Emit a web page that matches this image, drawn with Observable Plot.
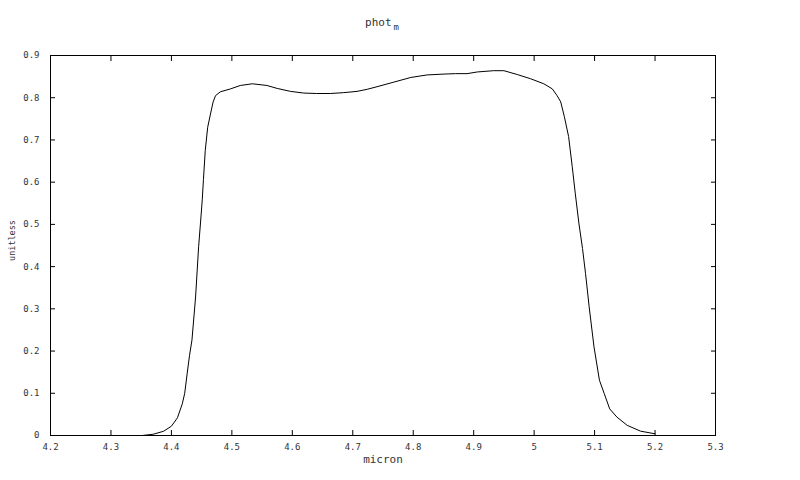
<!DOCTYPE html>
<html>
<head>
<meta charset="utf-8">
<script src="https://cdn.jsdelivr.net/npm/d3@7"></script>
<script src="https://cdn.jsdelivr.net/npm/@observablehq/plot@0.6"></script>
<style>
  html, body { margin: 0; padding: 0; background: #fff; }
  #wrap { position: relative; width: 800px; height: 480px; }
  #title { position: absolute; left: 0; top: 17px; width: 764px; text-align: center;
           font-family: "DejaVu Sans Mono", monospace; font-size: 11px; color: #333; line-height: 12px; }
  #title sub { font-size: 9px; vertical-align: -4px; line-height: 0; color: #333; margin-left: 2px; }
</style>
</head>
<body>
<div id="wrap"><div id="title">phot<sub>m</sub></div></div>
<script>
const wavelength = [4.352, 4.37, 4.387, 4.4, 4.41, 4.418, 4.422, 4.426, 4.43, 4.434, 4.44, 4.445, 4.449, 4.451, 4.453, 4.456, 4.46, 4.465, 4.469, 4.473, 4.481, 4.498, 4.514, 4.534, 4.558, 4.575, 4.597, 4.619, 4.64, 4.663, 4.685, 4.707, 4.724, 4.74, 4.768, 4.796, 4.823, 4.851, 4.87, 4.889, 4.906, 4.933, 4.95, 4.972, 4.994, 5.016, 5.03, 5.038, 5.044, 5.05, 5.057, 5.063, 5.068, 5.074, 5.08, 5.085, 5.091, 5.099, 5.108, 5.116, 5.125, 5.137, 5.154, 5.176, 5.2];
const response = [0, 0.003, 0.01, 0.022, 0.042, 0.075, 0.1, 0.146, 0.19, 0.226, 0.328, 0.447, 0.52, 0.558, 0.606, 0.675, 0.73, 0.764, 0.79, 0.805, 0.814, 0.821, 0.829, 0.833, 0.829, 0.822, 0.815, 0.811, 0.81, 0.81, 0.812, 0.815, 0.82, 0.826, 0.837, 0.848, 0.854, 0.856, 0.857, 0.857, 0.861, 0.864, 0.864, 0.855, 0.845, 0.833, 0.821, 0.805, 0.79, 0.755, 0.708, 0.637, 0.574, 0.503, 0.443, 0.384, 0.305, 0.21, 0.131, 0.099, 0.063, 0.0435, 0.024, 0.0103, 0.004];
const xTicks = [4.2, 4.3, 4.4, 4.5, 4.6, 4.7, 4.8, 4.9, 5.0, 5.1, 5.2, 5.3];
const yTicks = [0, 0.1, 0.2, 0.3, 0.4, 0.5, 0.6, 0.7, 0.8, 0.9];
const xLabel = "micron";
const yLabel = "unitless";

const data = wavelength.map((x, i) => ({x, y: response[i]}));
const fmt = d => String(+d.toFixed(1));

const chart = Plot.plot({
  width: 800,
  height: 480,
  marginLeft: 50,
  marginRight: 85,
  marginTop: 55,
  marginBottom: 45,
  style: {fontFamily: "DejaVu Sans Mono, monospace", fontSize: "9px", color: "#000", background: "#fff"},
  x: {domain: [4.2, 5.3]},
  y: {domain: [0, 0.9]},
  marks: [
    Plot.axisX(xTicks, {anchor: "bottom", tickSize: 0, tickPadding: 8, tickFormat: fmt, label: null, fill: "#333"}),
    Plot.axisX(xTicks, {anchor: "bottom", tickSize: 5, dy: -5, fill: "none", label: null}),
    Plot.axisX(xTicks, {anchor: "top", tickSize: 5, dy: 5, fill: "none", label: null}),
    Plot.axisY(yTicks, {anchor: "left", tickSize: 0, tickPadding: 11, tickFormat: fmt, label: null, fill: "#333"}),
    Plot.axisY(yTicks, {anchor: "left", tickSize: 5, dx: 5, fill: "none", label: null}),
    Plot.axisY(yTicks, {anchor: "right", tickSize: 5, dx: -5, fill: "none", label: null}),
    Plot.frame({stroke: "#000", strokeWidth: 1}),
    Plot.line(data, {x: "x", y: "y", stroke: "#000", strokeWidth: 1}),
    Plot.text([xLabel], {frameAnchor: "bottom", dy: 27, text: d => d, fontSize: 11, fill: "#333"}),
    Plot.text([yLabel], {frameAnchor: "left", dx: -38, dy: -5, rotate: -90, textAnchor: "middle", text: d => d, fontSize: 8.5, fill: "#333"})
  ]
});
document.getElementById("wrap").appendChild(chart);
</script>
</body>
</html>
